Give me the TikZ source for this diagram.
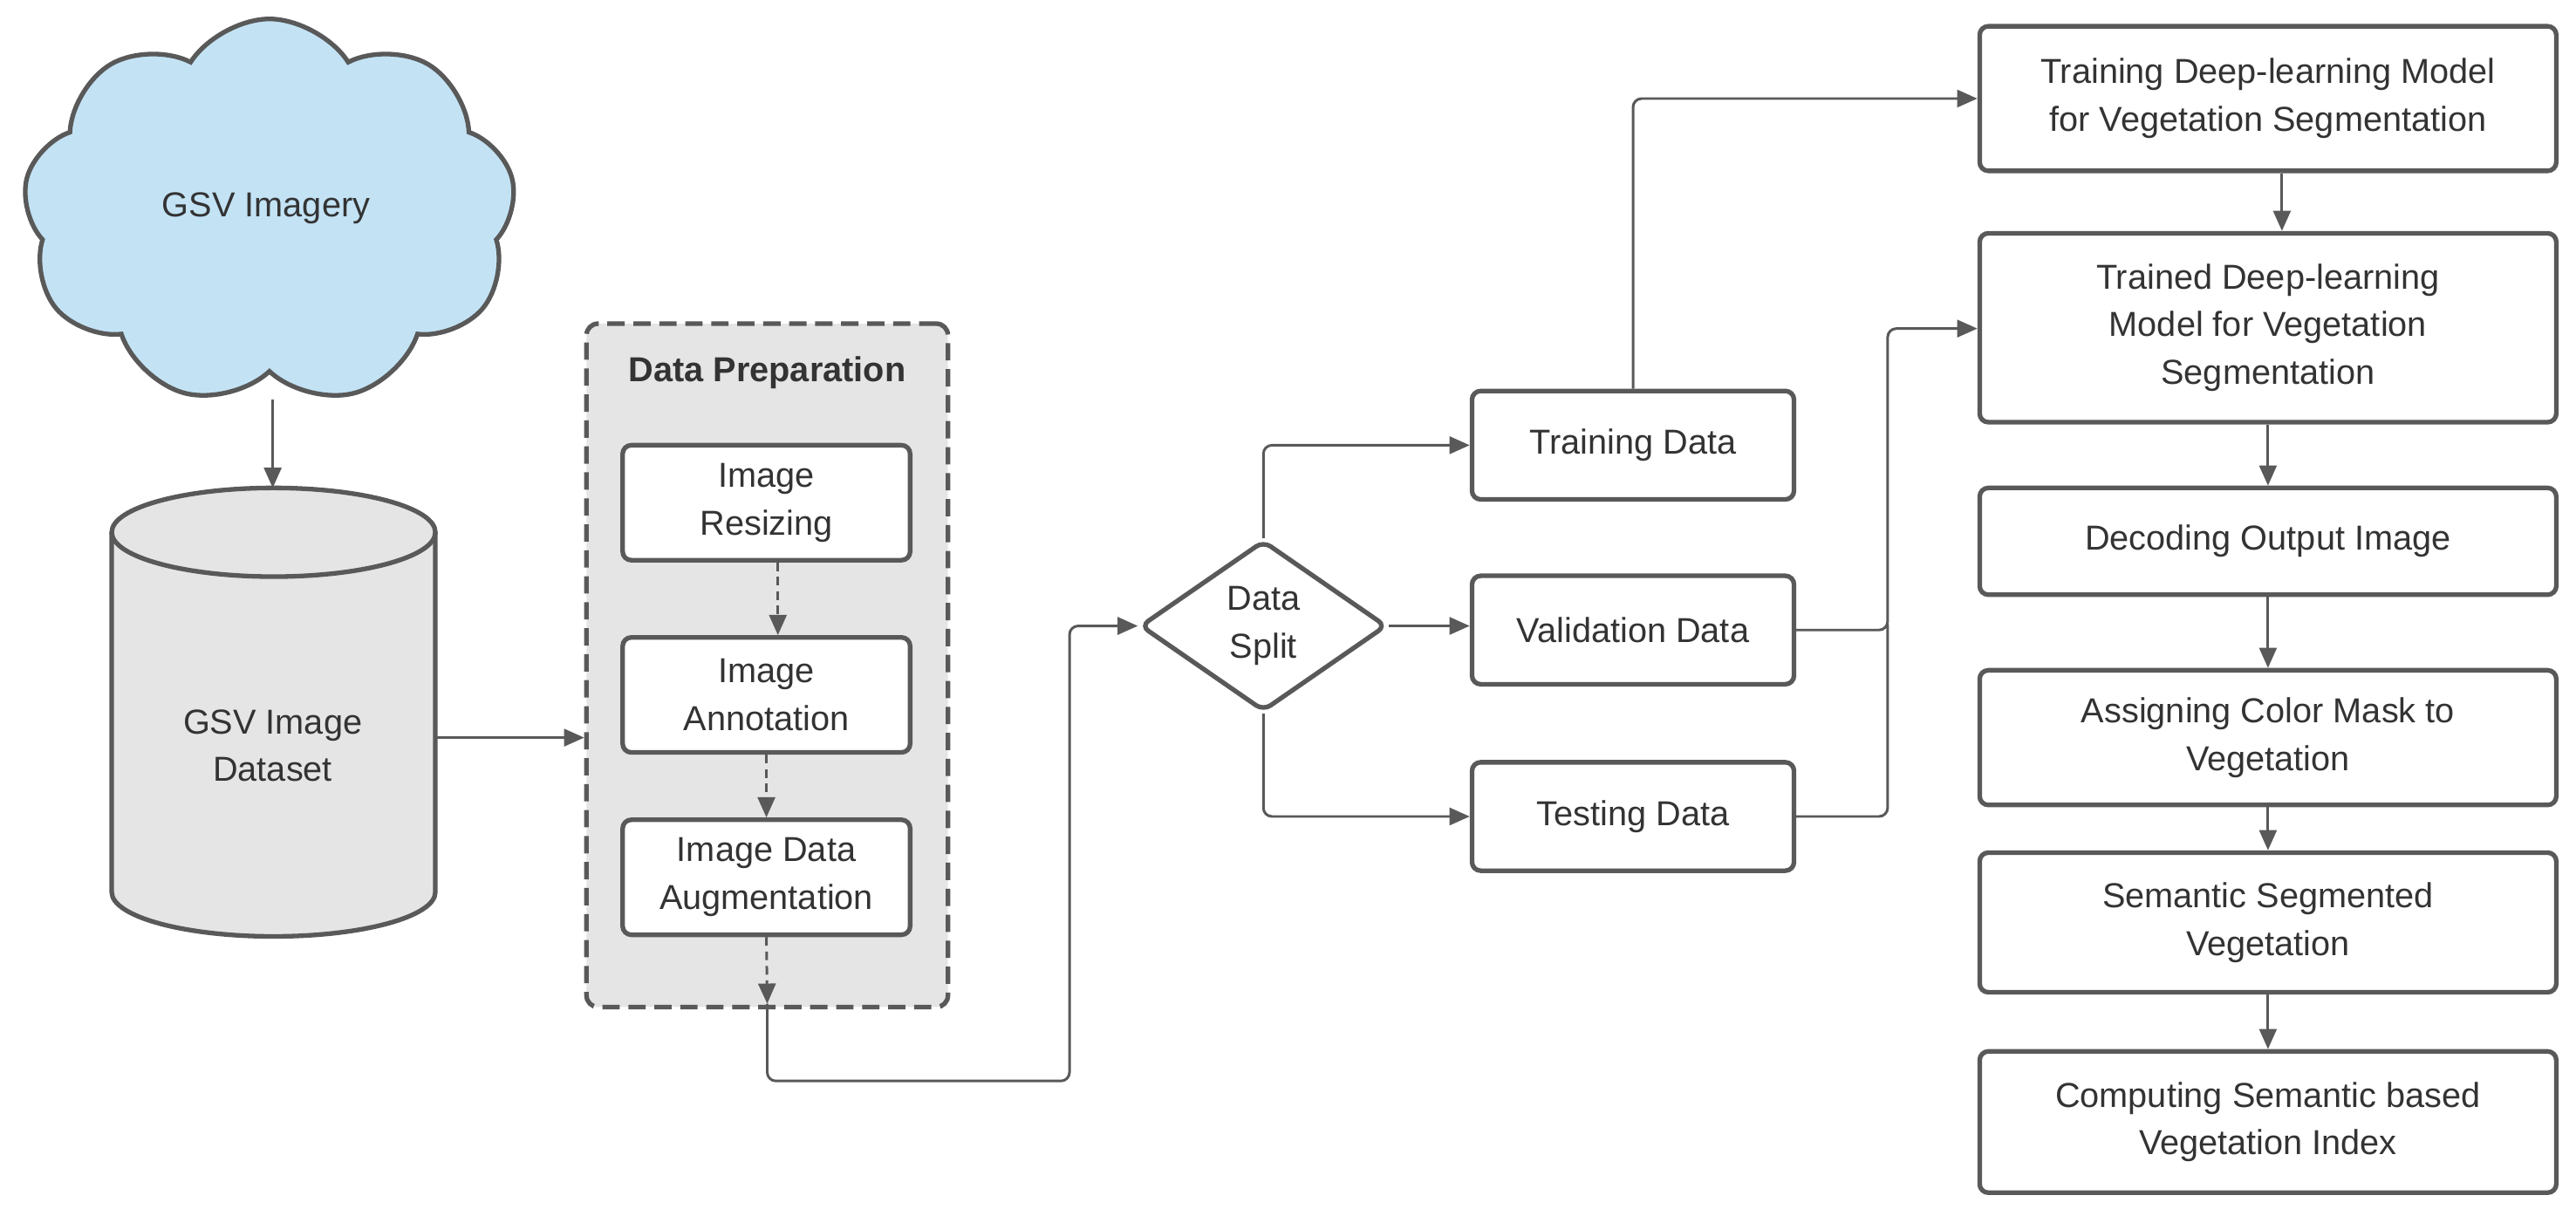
\documentclass[tikz,border=0pt]{standalone}
\usepackage{fontspec}
\setmainfont{Liberation Sans}
\usetikzlibrary{shapes.geometric,shapes.symbols,arrows.meta}
\definecolor{ln}{HTML}{595959}
\definecolor{tx}{HTML}{333333}
\definecolor{cl}{HTML}{C3E3F5}
\definecolor{gy}{HTML}{E5E5E5}
\begin{document}
\begin{tikzpicture}[x=0.02cm,y=-0.02cm,
  font=\fontsize{12}{16.5}\selectfont, text=tx,
  box/.style={draw=ln,line width=1.6pt,rounded corners=3pt,fill=white,align=center,inner sep=0pt},
  conn/.style={draw=ln,line width=0.9pt,rounded corners=3pt,-{Triangle[length=7pt,width=6pt]}},
  dconn/.style={conn,dashed,dash pattern=on 3pt off 2pt}]
\useasboundingbox (0,0) rectangle (1568,740);
% cloud
\node[cloud,cloud puffs=9,cloud puff arc=115,aspect=1.3,draw=ln,line width=1.6pt,fill=cl,
  minimum width=6.0cm,minimum height=4.7cm] (cloud) at (164,129) {};
\node at (162,127) {GSV Imagery};
% cylinder
\fill[gy] (68,324) -- (68,543) arc[start angle=180,end angle=360,x radius=98.5,y radius=-27] -- (265,324) -- cycle;
\draw[ln,line width=1.6pt] (68,324) -- (68,543) arc[start angle=180,end angle=360,x radius=98.5,y radius=-27] -- (265,324);
\draw[ln,line width=1.6pt,fill=gy] (166.5,324) ellipse[x radius=98.5,y radius=27];
\node[align=center] (cyl) at (166,454) {GSV Image\\Dataset};
\coordinate (cyltop) at (166,297);
\coordinate (cylr) at (265,449);
\coordinate (cloudb) at (166,243);
\draw[conn] (cloudb) -- (cyltop);
% data prep
\node[draw=ln,line width=1.6pt,dashed,dash pattern=on 6pt off 3pt,fill=gy,rounded corners=4pt,
  minimum width=220*0.02cm,minimum height=416*0.02cm] (prep) at (467,405) {};
\node[font=\fontsize{12}{16.5}\selectfont\bfseries] at (467,227) {Data Preparation};
\draw[conn] (cylr) -- (prep.west |- cylr);
\tikzset{ibox/.style={box,minimum width=175*0.02cm,minimum height=70*0.02cm}}
\node[ibox] (b1) at (466.5,306) {Image\\Resizing};
\node[ibox] (b2) at (466.5,423) {Image\\Annotation};
\node[ibox] (b3) at (466.5,534) {Image Data\\Augmentation};
\draw[dconn] ([xshift=0.14cm]b1.south) -- ([xshift=0.14cm]b2.north);
\draw[dconn] (b2.south) -- (b3.north);
\coordinate (pb) at (467,611);
\draw[dconn] (b3.south) -- (pb);
% diamond
\node[diamond,draw=ln,line width=1.6pt,fill=white,rounded corners=3pt,aspect=1.45,
  minimum width=150*0.02cm,minimum height=104*0.02cm,inner sep=0pt,align=center] (ds) at (769,381) {Data\\Split};
\draw[conn] (pb) -- (467,658) -- (651,658) -- (651,381) -- (ds.west);
% data boxes
\tikzset{dbox/.style={box,minimum width=196*0.02cm,minimum height=66*0.02cm}}
\node[dbox] (tr) at (994,271) {Training Data};
\node[dbox] (va) at (994,383.5) {Validation Data};
\node[dbox] (te) at (994,497) {Testing Data};
\draw[conn] (ds.north) |- (tr.west);
\draw[conn] (ds.east) -- (va.west |- ds.east);
\draw[conn] (ds.south) |- (te.west);
% right column
\tikzset{rbox/.style={box,minimum width=351*0.02cm}}
\node[rbox,minimum height=88*0.02cm] (r1) at (1380.5,60) {Training Deep-learning Model\\for Vegetation Segmentation};
\node[rbox,minimum height=115*0.02cm] (r2) at (1380.5,199.5) {Trained Deep-learning\\Model for Vegetation\\Segmentation};
\node[rbox,minimum height=65*0.02cm] (r3) at (1380.5,329.5) {Decoding Output Image};
\node[rbox,minimum height=82*0.02cm] (r4) at (1380.5,449) {Assigning Color Mask to\\Vegetation};
\node[rbox,minimum height=85*0.02cm] (r5) at (1380.5,561.5) {Semantic Segmented\\Vegetation};
\node[rbox,minimum height=86*0.02cm] (r6) at (1380.5,683) {Computing Semantic based\\Vegetation Index};
\draw[conn] (tr.north) |- (r1.west);
\draw[conn] ([xshift=0.17cm]r1.south) -- ([xshift=0.17cm]r1.south |- r2.north);
\draw[conn] (r2) -- (r3);
\draw[conn] (r3) -- (r4);
\draw[conn] (r4) -- (r5);
\draw[conn] (r5) -- (r6);
\draw[conn] (va.east) -- (1149,383.5) -- (1149,200) -- (r2.west |- 0,200);
\draw[draw=ln,line width=0.9pt,rounded corners=3pt] (te.east) -- (1149,497) -- (1149,380);
\end{tikzpicture}
\end{document}
